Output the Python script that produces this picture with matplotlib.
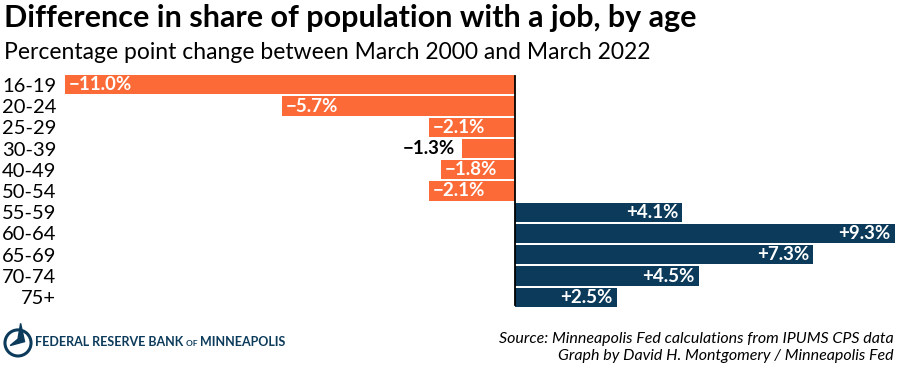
import matplotlib.pyplot as plt

# data
ages = ['16-19', '20-24', '25-29', '30-39', '40-49', '50-54',
        '55-59', '60-64', '65-69', '70-74', '75+']
change = [-11.0, -5.7, -2.1, -1.3, -1.8, -2.1, 4.1, 9.3, 7.3, 4.5, 2.5]
value_labels = ['\u221211.0%', '\u22125.7%', '\u22122.1%', '\u22121.3%', '\u22121.8%', '\u22122.1%',
                '+4.1%', '+9.3%', '+7.3%', '+4.5%', '+2.5%']

orange = '#FC6A37'
navy = '#0B3A5B'

plt.rcParams['font.family'] = ['Lato', 'DejaVu Sans']

fig = plt.figure(figsize=(9, 3.65), dpi=100)
ax = fig.add_axes([63 / 900, 1 - 310 / 365, 834 / 900, 238 / 365])

colors = [orange if v < 0 else navy for v in change]
ypos = list(range(len(ages)))
ax.barh(ypos, change, height=0.9, color=colors)
ax.set_xlim(-11.05, 9.35)
ax.set_ylim(10.6, -0.6)
ax.axvline(0, color='black', lw=1.3, ymax=0.985, ymin=0.02)

for i, (v, lab) in enumerate(zip(change, value_labels)):
    if v < 0:
        if abs(v) < 1.5:
            ax.text(v - 0.15, i, lab, ha='right', va='center', fontsize=13.5,
                    fontweight='bold', color='black')
        else:
            ax.text(v + 0.1, i, lab, ha='left', va='center', fontsize=13.5,
                    fontweight='bold', color='white')
    else:
        ax.text(v - 0.1, i, lab, ha='right', va='center', fontsize=13.5,
                fontweight='bold', color='white')

ax.set_yticks(ypos)
ax.set_yticklabels(ages, fontsize=14.5)
ax.tick_params(axis='y', length=0, pad=5)
ax.set_xticks([])
for s in ax.spines.values():
    s.set_visible(False)

fig.text(0.004, 0.952, 'Difference in share of population with a job, by age',
         fontsize=22, fontweight='bold', va='center', ha='left')
fig.text(0.004, 0.855, 'Percentage point change between March 2000 and March 2022',
         fontsize=16.5, va='center', ha='left')

# footer: bank name in pieces, chained by measured widths
renderer = fig.canvas.get_renderer()
x = 35
for piece, size in [('FEDERAL RESERVE BANK ', 9), ('OF ', 6), ('MINNEAPOLIS', 9)]:
    t = fig.text(x / 900, 1 - 346 / 365, piece, fontsize=size, color=navy,
                 fontweight='bold', va='baseline', ha='left')
    x += t.get_window_extent(renderer).width

lax = fig.add_axes([3 / 900, 1 - 362 / 365, 30 / 900, 44 / 365])
lax.set_aspect('equal')
lax.add_patch(plt.Circle((0, 0), 1, color=navy, fill=False, lw=2.2))
lax.add_patch(plt.Polygon([(-0.6, -0.2), (0.5, 0.1), (0.2, 1.5), (0.0, 0.3)],
                          color=navy))
lax.set_xlim(-1.15, 1.15)
lax.set_ylim(-1.15, 1.6)
lax.axis('off')

fig.text(0.993, 0.072, 'Source: Minneapolis Fed calculations from IPUMS CPS data',
         fontsize=11.5, style='italic', ha='right', va='center')
fig.text(0.993, 0.025, 'Graph by David H. Montgomery / Minneapolis Fed',
         fontsize=11.5, style='italic', ha='right', va='center')

fig.savefig('out.png', dpi=100)
